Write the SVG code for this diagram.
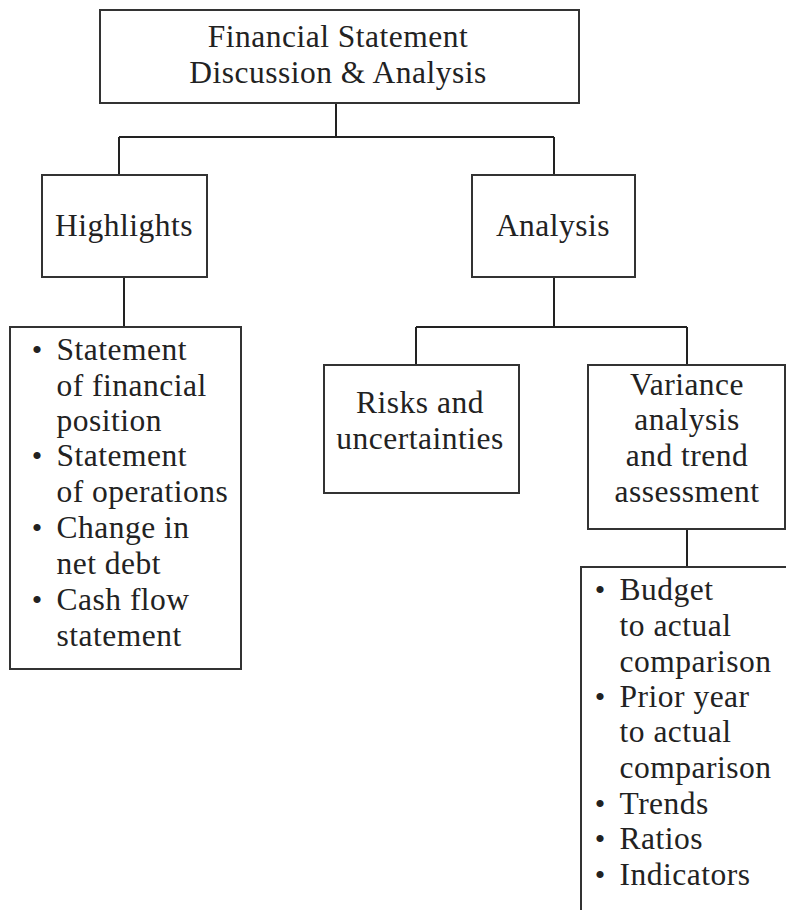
<svg xmlns="http://www.w3.org/2000/svg" width="786" height="910" viewBox="0 0 786 910">
<style>
.box{fill:#fff;stroke:#333;stroke-width:2}
.t{font-family:"Liberation Serif","Times New Roman",serif;font-size:31.5px;fill:#222;letter-spacing:0.5px}
.c{text-anchor:middle}
.b{font-family:"Liberation Serif","Times New Roman",serif;font-size:30px;fill:#222;text-anchor:middle}
#connectors path{fill:none;stroke:#222;stroke-width:2}
</style>
<rect width="786" height="910" fill="#fff"/>
<g id="connectors">
<path d="M336,103 V137 M119,137 H554 M119,137 V175 M554,137 V175"/>
<path d="M124,277 V327"/>
<path d="M554,277 V327 M416,327 H687 M416,327 V365 M687,327 V365"/>
<path d="M687,529 V567"/>
</g>
<g id="root">
<rect class="box" x="100" y="10" width="479" height="93"/>
<text class="t c" x="338" y="47">Financial Statement</text>
<text class="t c" x="338" y="83">Discussion &amp; Analysis</text>
</g>
<g id="highlights">
<rect class="box" x="42" y="175" width="165" height="102"/>
<text class="t c" x="124" y="236">Highlights</text>
</g>
<g id="analysis">
<rect class="box" x="472" y="175" width="163" height="102"/>
<text class="t c" x="553" y="236">Analysis</text>
</g>
<g id="highlights-list">
<rect class="box" x="10" y="327" width="231" height="342"/>
<text class="b" x="37" y="360">•</text>
<text class="t" x="56.5" y="360">Statement</text>
<text class="t" x="56.5" y="396">of financial</text>
<text class="t" x="56.5" y="431">position</text>
<text class="b" x="37" y="466">•</text>
<text class="t" x="56.5" y="466">Statement</text>
<text class="t" x="56.5" y="502">of operations</text>
<text class="b" x="37" y="538">•</text>
<text class="t" x="56.5" y="538">Change in</text>
<text class="t" x="56.5" y="574">net debt</text>
<text class="b" x="37" y="610">•</text>
<text class="t" x="56.5" y="610">Cash flow</text>
<text class="t" x="56.5" y="646">statement</text>
</g>
<g id="risks">
<rect class="box" x="324" y="365" width="195" height="128"/>
<text class="t c" x="420" y="413">Risks and</text>
<text class="t c" x="420" y="449">uncertainties</text>
</g>
<g id="variance">
<rect class="box" x="588" y="365" width="197" height="164"/>
<text class="t c" x="687" y="395">Variance</text>
<text class="t c" x="687" y="430">analysis</text>
<text class="t c" x="687" y="466">and trend</text>
<text class="t c" x="687" y="502">assessment</text>
</g>
<g id="variance-list">
<rect class="box" x="581" y="567" width="220" height="360"/>
<text class="b" x="600" y="600">•</text>
<text class="t" x="619.5" y="600">Budget</text>
<text class="t" x="619.5" y="636">to actual</text>
<text class="t" x="619.5" y="672">comparison</text>
<text class="b" x="600" y="707">•</text>
<text class="t" x="619.5" y="707">Prior year</text>
<text class="t" x="619.5" y="742">to actual</text>
<text class="t" x="619.5" y="778">comparison</text>
<text class="b" x="600" y="814">•</text>
<text class="t" x="619.5" y="814">Trends</text>
<text class="b" x="600" y="849">•</text>
<text class="t" x="619.5" y="849">Ratios</text>
<text class="b" x="600" y="885">•</text>
<text class="t" x="619.5" y="885">Indicators</text>
</g>
</svg>
